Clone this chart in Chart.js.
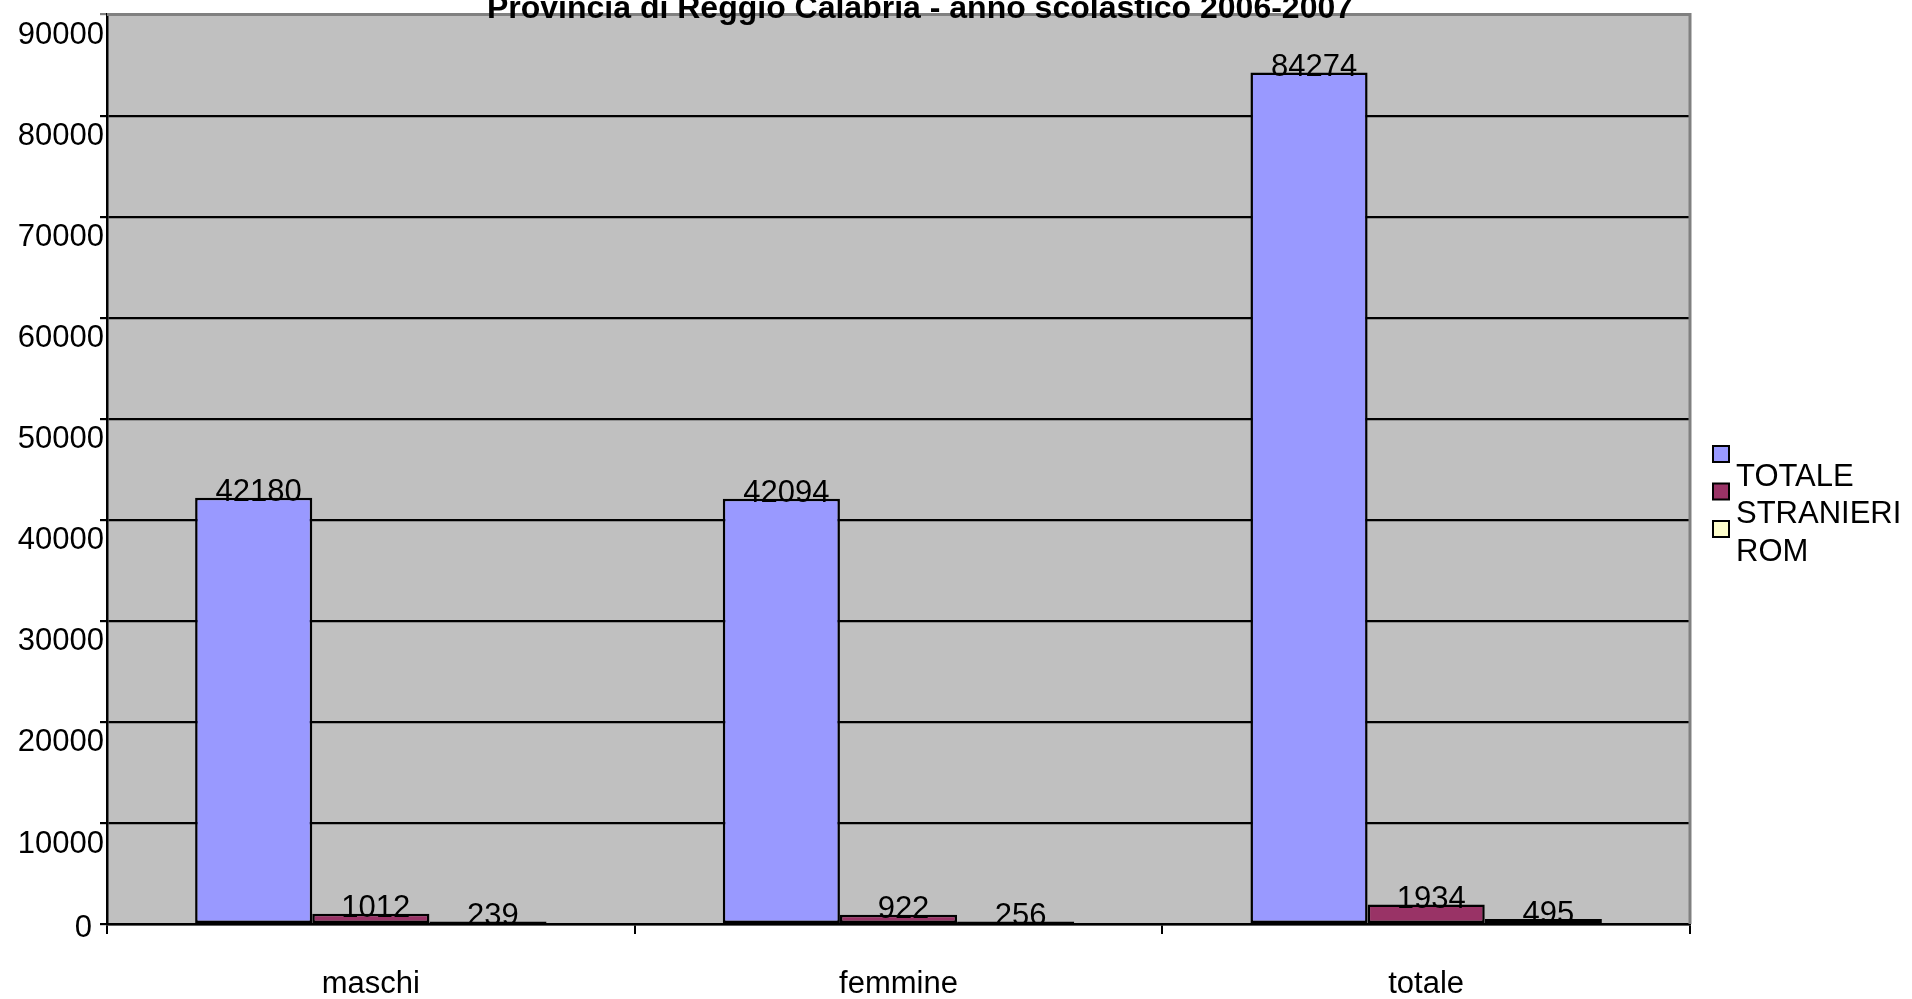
<!DOCTYPE html>
<html>
<head>
<meta charset="utf-8">
<title>Provincia di Reggio Calabria - anno scolastico 2006-2007</title>
<script src="https://cdn.jsdelivr.net/npm/chart.js@4.4.1/dist/chart.umd.min.js"></script>
<style>
    body { margin: 0; background: #ffffff; }
    #wrap { width: 1912px; height: 999px; }
</style>
</head>
<body>
<div id="wrap"><canvas id="scuolaChart" width="1912" height="999"></canvas></div>
<script>
var chartTitle = 'Provincia di Reggio Calabria - anno scolastico 2006-2007';
var categories = ['maschi', 'femmine', 'totale'];
var seriesNames = ['TOTALE', 'STRANIERI', 'ROM'];
var totale = [42180, 42094, 84274];
var stranieri = [1012, 922, 1934];
var rom = [239, 256, 495];
var yTicks = [0, 10000, 20000, 30000, 40000, 50000, 60000, 70000, 80000, 90000];
var seriesColors = ['#9999ff', '#993366', '#ffffcc'];

var fontName = '"Liberation Sans", Arial, sans-serif';

// sfondo grigio, bordo destro/superiore, titolo, etichette e legenda
var excelLook = {
    id: 'excelLook',
    beforeDraw: function(chart) {
        var ctx = chart.ctx, a = chart.chartArea;
        ctx.save();
        ctx.fillStyle = '#c0c0c0';
        ctx.fillRect(a.left, a.top, a.right - a.left, a.bottom - a.top);
        ctx.restore();
    },
    afterDatasetsDraw: function(chart) {
        var ctx = chart.ctx, a = chart.chartArea;
        ctx.save();
        ctx.strokeStyle = '#808080';
        ctx.lineWidth = 3;
        ctx.beginPath();
        ctx.moveTo(a.left, a.top);
        ctx.lineTo(a.right, a.top);
        ctx.lineTo(a.right, a.bottom);
        ctx.stroke();

        // valori sopra le barre
        ctx.fillStyle = '#000000';
        ctx.font = '31px ' + fontName;
        ctx.textAlign = 'center';
        ctx.textBaseline = 'middle';
        chart.data.datasets.forEach(function(ds, i) {
            chart.getDatasetMeta(i).data.forEach(function(bar, j) {
                ctx.fillText(String(ds.data[j]), bar.x + 5, bar.y - 5);
            });
        });

        // lo zero dell'asse y sta quasi sulla linea
        ctx.textAlign = 'right';
        ctx.fillText(String(yTicks[0]), a.left - 15, chart.scales.y.getPixelForValue(yTicks[0]) + 4);

        // titolo (tagliato in alto come nell'originale)
        ctx.textAlign = 'center';
        ctx.font = 'bold 32px ' + fontName;
        ctx.textBaseline = 'alphabetic';
        ctx.fillText(chartTitle, 920, 18);

        // legenda
        var lx = 1713, ly = 446, step = 37.5;
        ctx.textAlign = 'left';
        ctx.textBaseline = 'middle';
        ctx.font = '31px ' + fontName;
        chart.data.datasets.forEach(function(ds, i) {
            ctx.fillStyle = ds.backgroundColor;
            ctx.fillRect(lx, ly + i * step, 16, 16);
            ctx.strokeStyle = '#000000';
            ctx.lineWidth = 2;
            ctx.strokeRect(lx, ly + i * step, 16, 16);
            ctx.fillStyle = '#000000';
            ctx.fillText(ds.label, lx + 23, ly + i * step + 31);
        });
        ctx.restore();
    }
};

var ctx = document.getElementById('scuolaChart').getContext('2d');
var scuolaChart = new Chart(ctx, {
    type: 'bar',
    data: {
        labels: categories,
        datasets: [totale, stranieri, rom].map(function(values, i) {
            return {
                label: seriesNames[i],
                data: values,
                backgroundColor: seriesColors[i],
                borderColor: '#000000',
                borderWidth: 2.5,
                borderSkipped: false,
                categoryPercentage: 0.666,
                barPercentage: 1.0
            };
        })
    },
    options: {
        responsive: false,
        animation: false,
        layout: {
            padding: { top: 13, right: 222, left: 0, bottom: 0 }
        },
        plugins: {
            legend: { display: false },
            title: { display: false },
            tooltip: { enabled: false }
        },
        scales: {
            x: {
                border: { color: '#000000', width: 2.5 },
                grid: {
                    drawOnChartArea: false,
                    drawTicks: true,
                    tickLength: 10,
                    color: '#000000',
                    lineWidth: 2
                },
                ticks: {
                    color: '#000000',
                    padding: 32,
                    font: { family: fontName, size: 31 }
                },
                afterFit: function(scale) { scale.height = 75; }
            },
            y: {
                min: 0,
                max: 90000,
                border: { color: '#000000', width: 2.5 },
                grid: {
                    color: function(c) { return c.tick && c.tick.value === 90000 ? '#808080' : '#000000'; },
                    lineWidth: 2.2,
                    tickLength: 7
                },
                afterBuildTicks: function(scale) {
                    scale.ticks = yTicks.map(function(v) { return { value: v }; });
                },
                ticks: {
                    color: '#000000',
                    padding: -4,
                    labelOffset: 21,
                    font: { family: fontName, size: 31 },
                    callback: function(v) { return v === 0 ? '' : String(v); }
                },
                afterFit: function(scale) { scale.width = 107; }
            }
        }
    },
    plugins: [excelLook]
});
</script>
</body>
</html>
